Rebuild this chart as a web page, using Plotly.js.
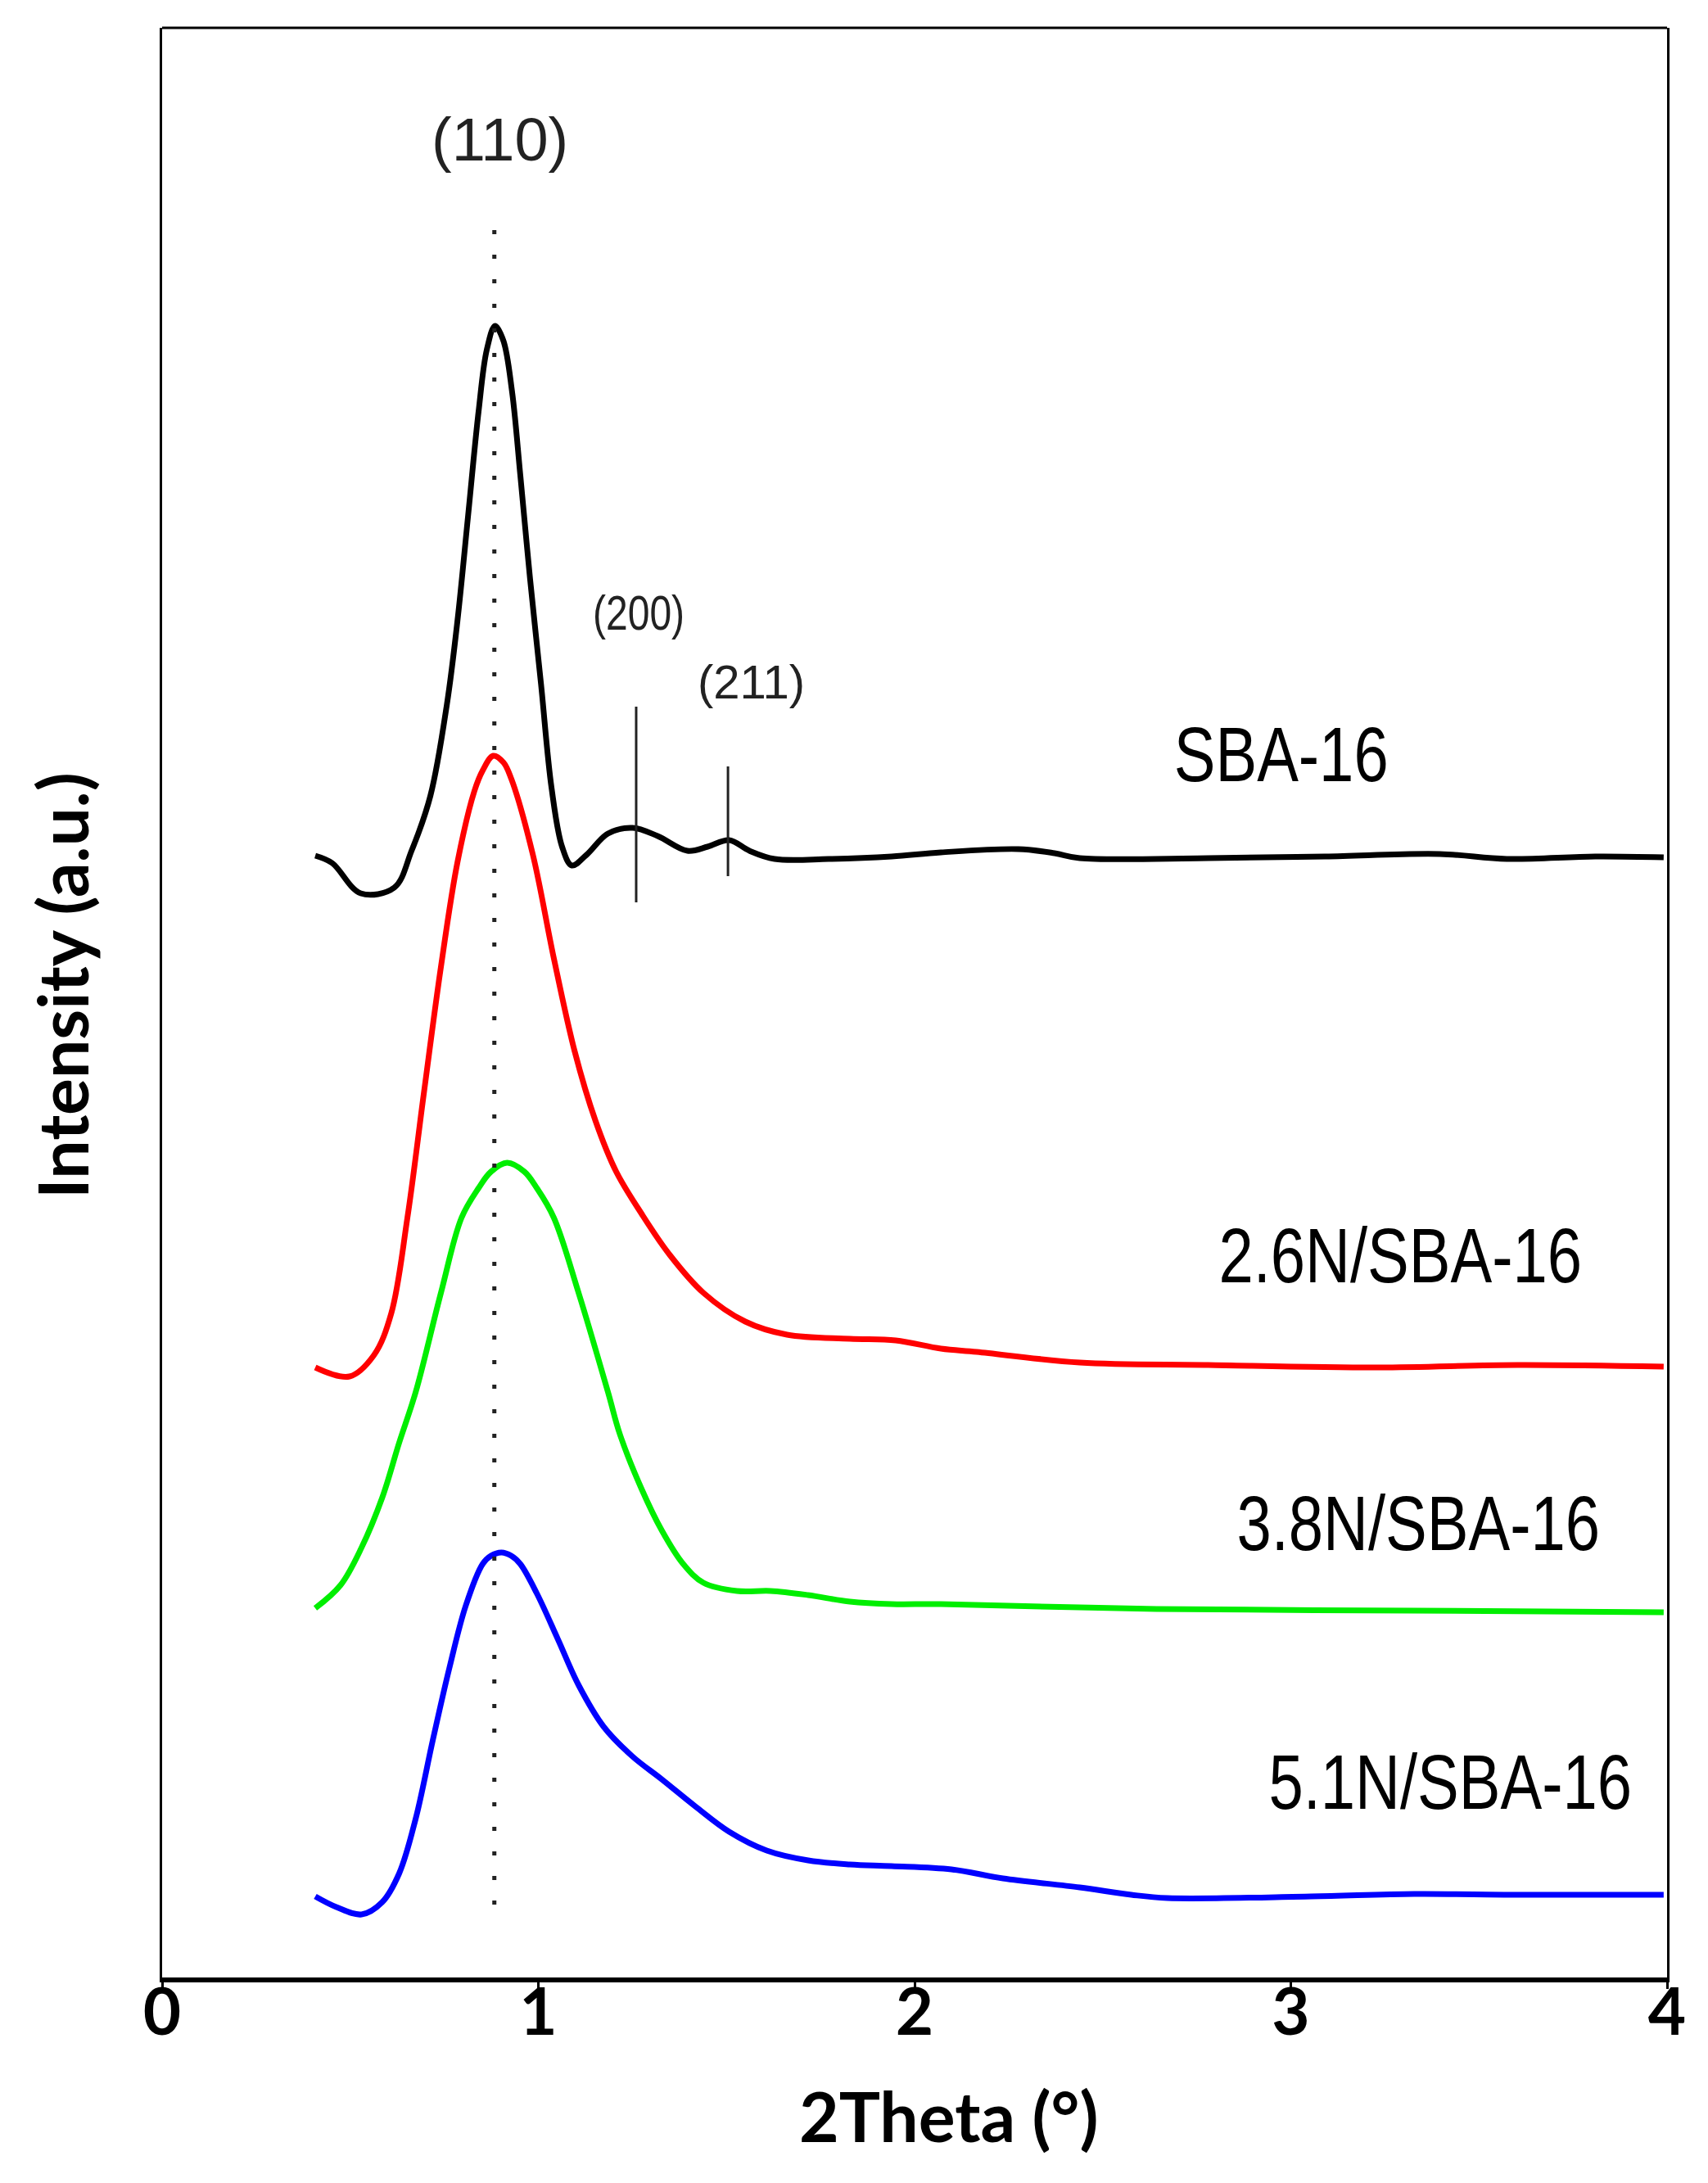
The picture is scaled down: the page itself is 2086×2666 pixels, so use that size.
<!DOCTYPE html>
<html>
<head>
<meta charset="utf-8">
<script src="https://cdn.plot.ly/plotly-3.0.1.min.js"></script>
<style>
  html, body { margin: 0; padding: 0; background: #fff; }
  #plot { width: 2086px; height: 2666px; }
  /* sample names and (200) are set in a condensed face in the original */
  .annotation[data-index="0"] .annotation-text,
  .annotation[data-index="1"] .annotation-text,
  .annotation[data-index="2"] .annotation-text,
  .annotation[data-index="3"] .annotation-text,
  .annotation[data-index="5"] .annotation-text {
    transform-box: fill-box;
    transform-origin: center;
    transform: scaleX(0.8);
  }
</style>
</head>
<body>
<div id="plot"></div>
<script>
// 2Theta (deg) and intensity (a.u., stacked)
const sba16_x = [0.407, 0.452, 0.528, 0.617, 0.663, 0.713, 0.757, 0.785, 0.813, 0.841, 0.863, 0.885, 0.907, 0.930, 0.952, 0.978, 1.007, 1.035, 1.063, 1.089, 1.128, 1.185, 1.250, 1.317, 1.396, 1.450, 1.507, 1.561, 1.628, 1.772, 1.939, 2.070, 2.276, 2.372, 2.439, 2.780, 3.091, 3.396, 3.574, 3.809, 3.991];
const sba16_y = [137.0, 136.1, 132.4, 133.1, 137.6, 144.3, 155.5, 165.7, 178.4, 191.2, 198.8, 201.7, 199.9, 193.7, 183.5, 170.8, 158.0, 145.3, 138.1, 135.8, 137.1, 139.7, 140.4, 139.4, 137.6, 138.1, 138.9, 137.6, 136.6, 136.6, 136.9, 137.4, 137.8, 137.3, 136.7, 136.7, 136.9, 137.2, 136.6, 136.9, 136.8];

const n26_x = [0.407, 0.498, 0.563, 0.609, 0.652, 0.696, 0.741, 0.785, 0.830, 0.852, 0.880, 0.907, 0.928, 0.985, 1.041, 1.096, 1.152, 1.207, 1.274, 1.350, 1.439, 1.550, 1.661, 1.828, 1.950, 2.070, 2.165, 2.439, 2.780, 3.233, 3.602, 3.991];
const n26_y = [74.5, 73.4, 76.0, 81.1, 92.8, 108.1, 123.4, 136.2, 144.9, 147.4, 149.2, 148.4, 146.4, 137.2, 124.5, 113.2, 104.6, 98.4, 93.3, 88.2, 83.6, 80.1, 78.5, 78.0, 77.8, 76.8, 76.4, 75.1, 74.8, 74.5, 74.8, 74.6];

const n38_x = [0.407, 0.474, 0.530, 0.585, 0.630, 0.674, 0.741, 0.796, 0.841, 0.874, 0.917, 0.963, 0.996, 1.041, 1.107, 1.185, 1.217, 1.274, 1.328, 1.385, 1.439, 1.528, 1.617, 1.717, 1.828, 1.939, 2.070, 2.643, 3.328, 3.991];
const n38_y = [45.1, 47.9, 52.5, 58.6, 65.3, 71.5, 83.6, 92.8, 96.4, 98.4, 99.5, 98.4, 96.4, 92.8, 83.6, 71.5, 66.3, 59.7, 54.6, 50.5, 48.2, 47.2, 47.2, 46.7, 45.9, 45.6, 45.6, 45.0, 44.8, 44.6];

const n51_x = [0.407, 0.463, 0.530, 0.585, 0.630, 0.674, 0.720, 0.763, 0.807, 0.852, 0.874, 0.902, 0.928, 0.952, 0.996, 1.052, 1.107, 1.174, 1.250, 1.328, 1.417, 1.507, 1.607, 1.717, 1.828, 1.939, 2.098, 2.235, 2.439, 2.576, 2.672, 3.054, 3.328, 3.602, 3.991];
const n51_y = [9.9, 8.6, 7.7, 9.2, 12.7, 19.4, 29.1, 37.7, 45.4, 50.5, 51.5, 51.9, 51.5, 50.5, 46.9, 41.3, 35.7, 30.6, 27.0, 24.2, 20.9, 17.8, 15.5, 14.3, 13.8, 13.6, 13.2, 12.1, 11.0, 10.1, 9.7, 9.9, 10.2, 10.1, 10.1];

const sampleNames = ['SBA-16', '2.6N/SBA-16', '3.8N/SBA-16', '5.1N/SBA-16'];
const sampleColors = ['#000000', '#ff0000', '#00ee00', '#0000ff'];

// reflections
const hklLabels = ['(110)', '(200)', '(211)'];
const hklPos = [0.883, 1.260, 1.504];

function curve(x, y, color) {
  return {
    x, y,
    type: 'scatter',
    mode: 'lines',
    line: { color, width: 7, shape: 'spline', smoothing: 1 },
    hoverinfo: 'none',
    showlegend: false
  };
}

function vline(x, y0, y1, width, dash) {
  return {
    x: [x, x], y: [y0, y1],
    type: 'scatter',
    mode: 'lines',
    line: { color: '#222', width, dash },
    hoverinfo: 'none',
    showlegend: false
  };
}

const traces = [
  curve(sba16_x, sba16_y, sampleColors[0]),
  curve(n26_x, n26_y, sampleColors[1]),
  curve(n38_x, n38_y, sampleColors[2]),
  curve(n51_x, n51_y, sampleColors[3]),
  vline(hklPos[0], 213.4, 7.7, 5, '5px,25px'),
  vline(hklPos[1], 155.2, 131.3, 3, 'solid'),
  vline(hklPos[2], 147.9, 134.5, 3, 'solid')
];

const labelFont = { family: 'Liberation Sans, Arial', size: 95, color: '#000' };
const boldFont = { family: 'Lato, Open Sans, sans-serif', size: 84, color: '#000', weight: 700 };

const annotations = [
  { x: 2.974, y: 149.4, text: sampleNames[0] },
  { x: 3.291, y: 88.2, text: sampleNames[1] },
  { x: 3.339, y: 55.5, text: sampleNames[2] },
  { x: 3.424, y: 23.9, text: sampleNames[3] }
].map(a => ({ ...a, xref: 'x', yref: 'y', showarrow: false, font: labelFont }));

annotations.push(
  { x: 0.898, y: 224.5, text: hklLabels[0], xref: 'x', yref: 'y', showarrow: false,
    font: { family: 'Liberation Sans, Arial', size: 74, color: '#222' } },
  { x: 1.267, y: 166.7, text: hklLabels[1], xref: 'x', yref: 'y', showarrow: false,
    font: { family: 'Liberation Sans, Arial', size: 60, color: '#222' } },
  { x: 1.565, y: 158.3, text: hklLabels[2], xref: 'x', yref: 'y', showarrow: false,
    font: { family: 'Liberation Sans, Arial', size: 58, color: '#222' } },
  { x: 0.523, y: -0.0706, xref: 'paper', yref: 'paper', text: '2Theta (°)', showarrow: false,
    xanchor: 'center', yanchor: 'middle', font: boldFont },
  { x: -0.067, y: 0.509, xref: 'paper', yref: 'paper', text: 'Intensity (a.u.)', showarrow: false,
    textangle: -90, xanchor: 'center', yanchor: 'middle', font: boldFont }
);

const layout = {
  width: 2086,
  height: 2666,
  margin: { l: 198, r: 50, t: 34, b: 251 },
  paper_bgcolor: '#fff',
  plot_bgcolor: '#fff',
  showlegend: false,
  xaxis: {
    range: [0, 4],
    tickvals: [0, 1, 2, 3, 4],
    ticks: 'outside',
    ticklen: 8,
    tickwidth: 3,
    tickcolor: '#000',
    ticklabelstandoff: -40,
    tickfont: { family: 'Lato, Open Sans, sans-serif', size: 80, color: '#000', weight: 700 },
    showline: true,
    linecolor: '#000',
    linewidth: 6,
    showgrid: false,
    zeroline: false
  },
  yaxis: {
    range: [0, 238.1],
    showticklabels: false,
    ticks: '',
    showline: true,
    mirror: true,
    linecolor: '#000',
    linewidth: 3,
    showgrid: false,
    zeroline: false
  },
  shapes: [
    { type: 'line', xref: 'paper', yref: 'paper', x0: 0, x1: 1, y0: 1, y1: 1,
      line: { color: '#000', width: 3 } }
  ],
  annotations
};

Plotly.newPlot('plot', traces, layout, { staticPlot: true });
</script>
</body>
</html>
